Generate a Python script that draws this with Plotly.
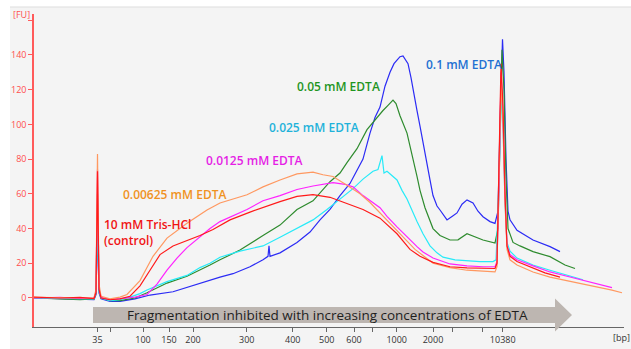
import plotly.graph_objects as go

# migration position (linear time-like scale) and fluorescence [FU]
red_pos = [34, 60, 80, 94, 96, 97.5, 99, 101, 110, 120, 130, 140, 150, 160, 173, 187, 200, 213, 230, 250, 267, 280, 297, 313, 330, 345, 363, 380, 397, 410, 420, 433, 450, 467, 483, 495, 497, 499, 501, 503, 505, 507, 510, 517, 533, 545, 560]
red_fu = [0.5, 0, 0.3, -0.3, 3, 73, 5, 0, -1, -0.5, 1, 7, 16, 25, 30, 33, 36, 39.5, 45, 49.5, 53, 55.5, 58.5, 59.5, 58, 55, 51, 46, 37, 28, 24, 20.5, 18, 17.3, 17.3, 17, 20, 70, 135, 110, 60, 30, 24, 21, 17.3, 14.5, 12]

orange_pos = [34, 60, 80, 94, 96, 97.5, 99, 101, 110, 120, 127, 140, 153, 167, 187, 207, 220, 247, 263, 280, 297, 313, 323, 333, 347, 360, 370, 380, 387, 397, 407, 415, 423, 433, 450, 467, 483, 495, 497, 499, 501, 503, 505, 507, 510, 517, 533, 550, 567, 587, 600, 612, 622]
orange_fu = [0.3, 0.2, 0, 0, 5, 83, 8, 1, -0.5, 0.5, 2, 10, 24, 34.5, 43, 50.7, 54.7, 59.5, 64, 68, 71.5, 72.5, 71, 70, 65, 60, 55, 49, 45, 39, 33, 28, 24.5, 20, 17.5, 16, 15.5, 15, 18, 65, 125, 100, 55, 28, 22, 19, 15, 12, 10, 7.5, 6, 4.5, 3]

magenta_pos = [34, 60, 80, 94, 96, 97.5, 99, 101, 110, 120, 135, 147, 157, 167, 177, 187, 200, 210, 220, 230, 247, 263, 280, 297, 313, 333, 345, 353, 363, 380, 387, 397, 407, 417, 423, 433, 450, 467, 483, 495, 497, 499, 501, 503, 505, 507, 510, 517, 533, 550, 567, 587, 600, 612]
magenta_fu = [0, 0.3, -0.3, 0, 4, 74, 6, 0.5, -1, -0.5, 0.5, 2, 8, 16, 23, 29, 35, 40, 44, 46.5, 51, 56, 59, 62.5, 64.5, 66.5, 65.5, 64, 59, 52, 47, 41, 35, 29.6, 26.5, 23, 19.6, 18.5, 18, 18, 21, 65, 130, 105, 58, 30, 25, 22, 18.5, 15, 12.5, 9.5, 7.5, 6]

cyan_pos = [34, 60, 80, 94, 96, 97.5, 99, 101, 110, 120, 130, 140, 147, 167, 187, 200, 210, 220, 240, 263, 280, 297, 313, 327, 340, 353, 363, 373, 378, 382, 384, 387, 397, 402, 407, 412, 417, 423, 430, 437, 443, 455, 467, 480, 493, 496, 498, 500, 501.5, 503, 505, 507, 510, 517, 533, 550, 567, 583]
cyan_fu = [0, -0.3, -0.5, -0.5, 3, 46, 4, 0, -1.5, -1, 0.5, 2.5, 4.6, 9.4, 13, 17.5, 20, 23.5, 27, 30, 35, 40, 45, 51, 57, 63, 68.5, 73, 74, 82, 72, 73, 68, 62, 57, 50, 44, 37, 30, 26, 23.5, 22, 21.5, 21, 21, 22, 50, 100, 120, 100, 55, 32, 27, 23, 19, 16, 13, 10.5]

green_pos = [34, 60, 80, 94, 96, 97.5, 99, 101, 110, 120, 135, 147, 167, 187, 200, 210, 220, 240, 263, 280, 297, 313, 330, 340, 347, 357, 367, 377, 383, 388, 393, 396, 400, 407, 413, 417, 420, 425, 433, 440, 450, 458, 467, 475, 483, 495, 498, 500, 502, 504, 506, 508, 513, 520, 533, 550, 565, 575]
green_fu = [0, -0.5, -1, -0.5, 3, 60, 5, 0, -1.5, -1.5, 0, 3, 8.6, 12.5, 16, 19, 22, 27.6, 36, 42, 51, 56, 67, 72, 78, 86, 97, 104, 108, 111, 114, 112, 105, 95, 81, 70, 62, 52, 40, 36, 33.4, 33.5, 37, 35, 33.4, 31.7, 40, 90, 143, 120, 70, 40, 32, 30, 26.7, 23.8, 19, 17]

blue_pos = [34, 60, 80, 94, 96, 97.5, 99, 101, 110, 120, 135, 150, 173, 200, 220, 233, 250, 263, 268, 269, 270, 280, 297, 310, 320, 330, 340, 350, 357, 363, 370, 375, 380, 385, 390, 394, 397, 400, 403, 406, 408, 411, 413, 417, 420, 424, 427, 430, 433, 437, 440, 447, 452, 457, 462, 467, 473, 478, 483, 490, 495, 498, 500, 502.5, 504, 506, 508, 510, 517, 525, 533, 550, 560]
blue_fu = [0, -0.5, -0.5, -1, 2, 40, 3, -0.5, -2, -2, -0.5, 1.7, 3.6, 8.5, 12, 14, 18, 22, 24, 30, 24, 26, 32, 38, 45, 51, 59, 66, 74, 80, 95, 104, 110, 122, 130, 135, 137, 139, 139.5, 137, 135, 127, 120, 108, 99, 86, 76, 68, 59, 53, 50.7, 45, 47, 49, 54, 56.5, 54.7, 50, 46.8, 44, 43, 50, 100, 149, 130, 80, 50, 45, 39, 36, 33.4, 29.6, 26.7]

tick_pos = [97.5, 110.7, 143, 169, 193, 246.7, 292.7, 326.7, 354, 372.7, 396.7, 433, 452, 482, 502.7]
tick_text = ["35", "", "100", "150", "200", "300", "400", "500", "600", "", "1000", "2000", "", "", "10380"]
y_ticks = [0, 20, 40, 60, 80, 100, 120, 140, 160]
y_text = ["0", "20", "40", "60", "80", "100", "120", "140", ""]

series = [
    ("0.1 mM EDTA", blue_pos, blue_fu, "#2b2bf5"),
    ("0.05 mM EDTA", green_pos, green_fu, "#2e8b2e"),
    ("0.025 mM EDTA", cyan_pos, cyan_fu, "#27eaf8"),
    ("0.0125 mM EDTA", magenta_pos, magenta_fu, "#ff22ff"),
    ("0.00625 mM EDTA", orange_pos, orange_fu, "#ff9860"),
    ("10 mM Tris-HCl", red_pos, red_fu, "#ff1a1a"),
]

fig = go.Figure()
for name, xs, ys, col in series:
    fig.add_trace(go.Scatter(x=xs, y=ys, mode="lines", name=name,
                             line=dict(color=col, width=1.2), showlegend=False))

X0, X1 = 34, 624
Y0, Y1 = -16.71, 163.6
W, H = 631, 349
ML, MR, MT, MB = 34, 7, 14, 22


def px(p):
    return (p - ML) / (W - ML - MR)


def py(p):
    return (H - MB - p) / (H - MT - MB)


def fu(p):
    return (298 - p) / 1.7357


shapes = [
    dict(type="rect", xref="paper", yref="paper", x0=px(10), x1=px(W + 5), y0=py(H + 5), y1=py(7),
         fillcolor="#f4f4f4", line=dict(width=0), layer="below"),
    dict(type="line", xref="paper", yref="paper", x0=px(10), x1=px(W), y0=py(7), y1=py(7),
         line=dict(color="#dddddd", width=1)),
    dict(type="path", xref="paper", yref="paper",
         path=(f"M {px(93)},{py(307)} L {px(555)},{py(307)} L {px(555)},{py(298.5)} "
               f"L {px(572)},{py(315)} L {px(555)},{py(331.5)} L {px(555)},{py(323)} "
               f"L {px(93)},{py(323)} Z"),
         fillcolor="#bdb6b1", line=dict(width=0), layer="above"),
]

font_lab = "Open Sans"
annotations = [
    dict(text="Fragmentation inhibited with increasing concentrations of EDTA", xref="paper", yref="paper",
         x=px(327.5), y=py(315), yanchor="middle", showarrow=False,
         font=dict(family=font_lab, size=13.5, color="#1e1e1e")),
    dict(text="[FU]", xref="paper", yref="paper", x=px(11), y=py(14), xanchor="left", yanchor="middle",
         showarrow=False, font=dict(family=font_lab, size=9, color="#ff4d4d")),
    dict(text="[bp]", xref="paper", yref="paper", x=px(611), y=py(338), xanchor="left", yanchor="middle",
         showarrow=False, font=dict(family=font_lab, size=9, color="#333333")),
    dict(text="0.1 mM EDTA", x=463.5, y=fu(65), yanchor="middle", showarrow=False,
         font=dict(family=font_lab, size=12, color="#2270d2", weight=600)),
    dict(text="0.05 mM EDTA", x=338, y=fu(86.7), yanchor="middle", showarrow=False,
         font=dict(family=font_lab, size=12, color="#1f951f", weight=600)),
    dict(text="0.025 mM EDTA", x=314, y=fu(127.7), yanchor="middle", showarrow=False,
         font=dict(family=font_lab, size=12, color="#1fb2da", weight=600)),
    dict(text="0.0125 mM EDTA", x=254.5, y=fu(160.7), yanchor="middle", showarrow=False,
         font=dict(family=font_lab, size=12, color="#e51ee5", weight=600)),
    dict(text="0.00625 mM EDTA", x=174.5, y=fu(195), yanchor="middle", showarrow=False,
         font=dict(family=font_lab, size=12, color="#f0921f", weight=600)),
    dict(text="10 mM Tris-HCl<br>(control)", x=101.5, y=fu(233), xanchor="left", yanchor="middle",
         align="left", showarrow=False,
         font=dict(family=font_lab, size=12, color="#f01414", weight=600)),
]

fig.update_layout(
    width=W, height=H, margin=dict(l=ML, r=MR, t=MT, b=MB, autoexpand=False),
    paper_bgcolor="white", plot_bgcolor="rgba(0,0,0,0)",
    shapes=shapes, annotations=annotations,
    xaxis=dict(range=[X0, X1], tickmode="array", tickvals=tick_pos, ticktext=tick_text, automargin=False,
               showgrid=False, zeroline=False, showline=True, linecolor="#666666", linewidth=1,
               ticks="outside", ticklen=4, tickcolor="#666666",
               tickfont=dict(family=font_lab, size=9, color="#333333")),
    yaxis=dict(range=[Y0, Y1], tickmode="array", tickvals=y_ticks, ticktext=y_text, automargin=False,
               showgrid=False, zeroline=False, showline=True, linecolor="#ff5a5a", linewidth=1.5,
               ticks="outside", ticklen=4, tickcolor="#ff5a5a",
               tickfont=dict(family=font_lab, size=9, color="#ff4d4d")),
)

fig.write_html("out.html")
